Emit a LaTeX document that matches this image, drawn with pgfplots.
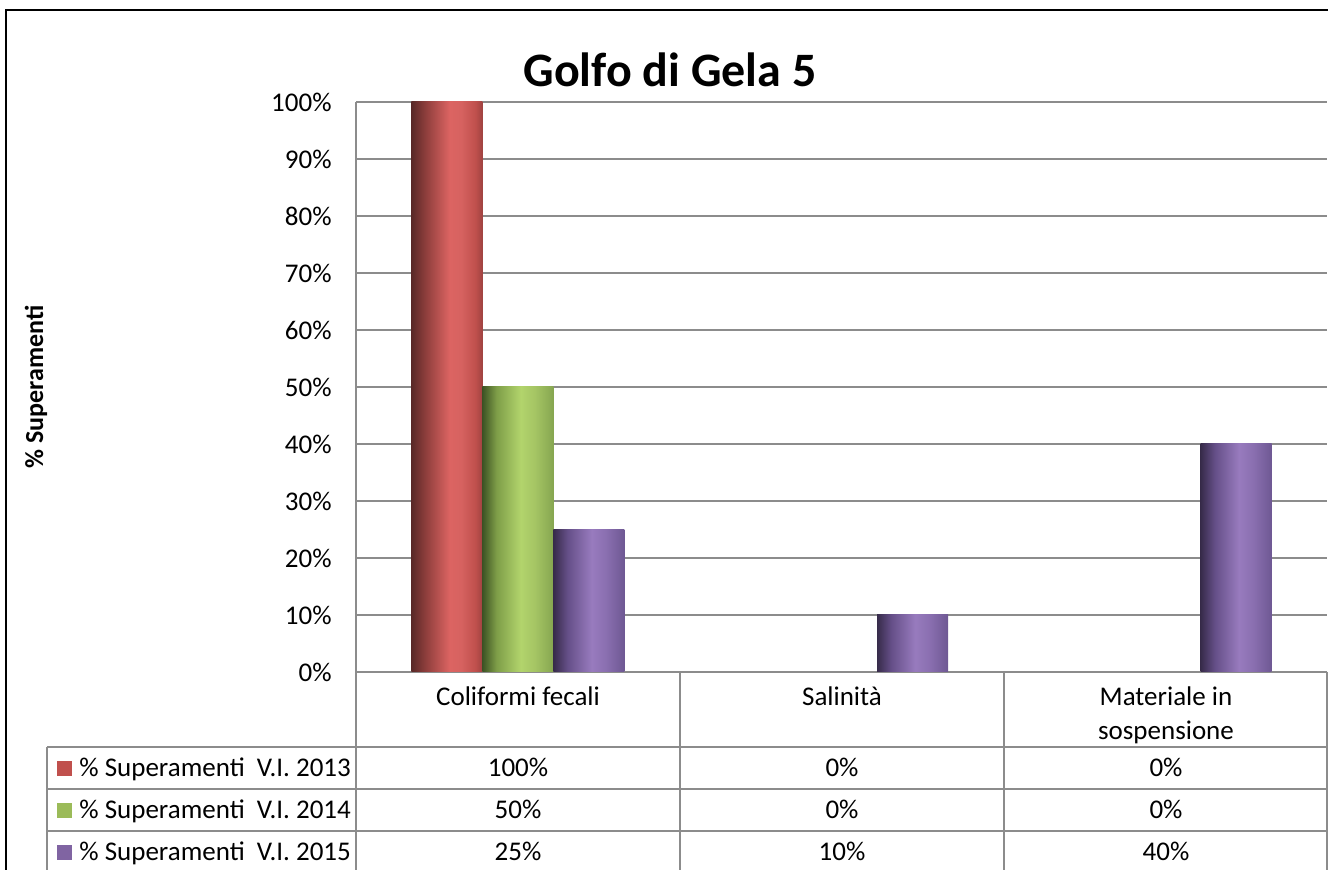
\documentclass[border=0pt]{standalone}
\usepackage{pgfplots}
\pgfplotsset{compat=1.18}
\usepackage{fontspec}
\setmainfont{Carlito}

\definecolor{gridgray}{RGB}{140,140,140}
\definecolor{key13}{RGB}{192,80,77}
\definecolor{key14}{RGB}{155,187,89}
\definecolor{key15}{RGB}{128,100,162}

% bar shadings, dark left edge -> light middle -> darker right edge
\definecolor{r0}{RGB}{88,40,39}
\definecolor{r1}{RGB}{142,62,60}
\definecolor{r2}{RGB}{220,100,98}
\definecolor{r3}{RGB}{214,98,96}
\definecolor{r4}{RGB}{192,80,77}
\definecolor{r5}{RGB}{160,67,65}
\definecolor{g0}{RGB}{60,82,36}
\definecolor{g1}{RGB}{126,158,72}
\definecolor{g2}{RGB}{178,212,108}
\definecolor{g3}{RGB}{165,197,100}
\definecolor{g4}{RGB}{134,166,80}
\definecolor{p0}{RGB}{55,43,74}
\definecolor{p1}{RGB}{101,79,136}
\definecolor{p2}{RGB}{152,123,190}
\definecolor{p3}{RGB}{138,111,176}
\definecolor{p4}{RGB}{110,88,147}

\pgfdeclarehorizontalshading{bar13}{100bp}{color(0bp)=(r0); color(25bp)=(r0); color(35bp)=(r1); color(52bp)=(r2); color(60bp)=(r3); color(70bp)=(r4); color(75bp)=(r5); color(100bp)=(r5)}
\pgfdeclarehorizontalshading{bar14}{100bp}{color(0bp)=(g0); color(25bp)=(g0); color(35bp)=(g1); color(52bp)=(g2); color(62bp)=(g3); color(75bp)=(g4); color(100bp)=(g4)}
\pgfdeclarehorizontalshading{bar15}{100bp}{color(0bp)=(p0); color(25bp)=(p0); color(35bp)=(p1); color(52bp)=(p2); color(62bp)=(p3); color(75bp)=(p4); color(100bp)=(p4)}

\begin{document}
\begin{tikzpicture}
\useasboundingbox (0,0) rectangle (664pt,435pt);

\begin{axis}[
  at={(178pt,99pt)}, anchor=south west,
  scale only axis, width=485.5pt, height=285pt,
  xmin=-0.5, xmax=2.5, ymin=0, ymax=100,
  axis line style={draw=none},
  xtick=\empty,
  ytick={0,10,...,100},
  yticklabel={\pgfmathprintnumber{\tick}\%},
  /pgf/number format/assume math mode=true,
  yticklabel style={font=\fontsize{13.5}{16}\selectfont, anchor=east, inner sep=0pt, xshift=-12pt},
  major tick length=0pt,
  ymajorgrids,
  grid style={gridgray, line width=1pt},
  ybar, bar width=35.5pt,
  clip=false,
]
% one plot per bar so each bar gets its own shading; zero values are not drawn
\addplot[draw=none, shade, shading=bar13, bar shift=-35.5pt] coordinates {(0,100)};
\addplot[draw=none, shade, shading=bar14, bar shift=0pt] coordinates {(0,50)};
\addplot[draw=none, shade, shading=bar15, bar shift=35.5pt] coordinates {(0,25)};
\addplot[draw=none, shade, shading=bar15, bar shift=35.5pt] coordinates {(1,10)};
\addplot[draw=none, shade, shading=bar15, bar shift=35.5pt] coordinates {(2,40)};
\end{axis}

% everything below in pixel units of the reference, y downwards
\begin{scope}[x=0.5pt, y=-0.5pt, yshift=435pt]
  \draw[black, line width=1.2pt] (1400,10) -- (6,10) -- (6,1000);

  \node[font=\bfseries\fontsize{24}{28}\selectfont] at (670,70) {Golfo di Gela 5};
  \node[rotate=90, font=\bfseries\fontsize{13}{16}\selectfont] at (36,387) {\% Superamenti};

  % data table
  \begin{scope}[gridgray, line width=1pt]
    \draw (356,102) -- (356,1000);
    \draw (680,672) -- (680,1000);
    \draw (1004,672) -- (1004,1000);
    \draw[line width=1.4pt] (1327,672) -- (1327,1000);
    \draw (47,747) -- (1327,747);
    \draw (47,789) -- (1327,789);
    \draw (47,831) -- (1327,831);
    \draw (47,747) -- (47,1000);
  \end{scope}

  \begin{scope}[font=\fontsize{13.5}{16}\selectfont, inner sep=0pt]
    \node[anchor=base] at (518,706) {Coliformi fecali};
    \node[anchor=base] at (842,706) {Salinità};
    \node[anchor=base] at (1166,706) {Materiale in};
    \node[anchor=base] at (1166,740) {sospensione};

    \fill[key13] (57,761) rectangle (72,776);
    \fill[key14] (57,803) rectangle (72,818);
    \fill[key15] (57,845) rectangle (72,860);
    \node[anchor=base west] at (79,777) {\% Superamenti\ \ V.I. 2013};
    \node[anchor=base west] at (79,819) {\% Superamenti\ \ V.I. 2014};
    \node[anchor=base west] at (79,861) {\% Superamenti\ \ V.I. 2015};

    \node[anchor=base] at (518,777) {100\%};
    \node[anchor=base] at (842,777) {0\%};
    \node[anchor=base] at (1166,777) {0\%};
    \node[anchor=base] at (518,819) {50\%};
    \node[anchor=base] at (842,819) {0\%};
    \node[anchor=base] at (1166,819) {0\%};
    \node[anchor=base] at (518,861) {25\%};
    \node[anchor=base] at (842,861) {10\%};
    \node[anchor=base] at (1166,861) {40\%};
  \end{scope}
\end{scope}
\end{tikzpicture}
\end{document}
